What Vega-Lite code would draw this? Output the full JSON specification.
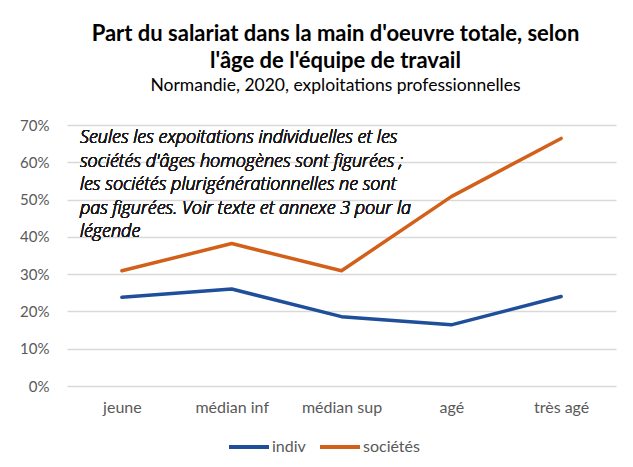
{
  "$schema": "https://vega.github.io/schema/vega-lite/v6.json",
  "width": 549,
  "height": 261,
  "autosize": "none",
  "padding": {"left": 67, "top": 125, "right": 17, "bottom": 81},
  "background": "white",
  "title": {
    "text": ["Part du salariat dans la main d'oeuvre totale, selon", "l'âge de l'équipe de travail"],
    "subtitle": "Normandie, 2020, exploitations professionnelles",
    "anchor": "middle",
    "dx": -6,
    "offset": 23,
    "font": "Lato",
    "fontSize": 22,
    "fontWeight": "bold",
    "color": "#000000",
    "lineHeight": 27,
    "subtitleFont": "Lato",
    "subtitleFontSize": 17.5,
    "subtitleColor": "#000000",
    "subtitlePadding": 4
  },
  "data": {
    "values": [
      {"age": "jeune", "type": "indiv", "part": 0.238},
      {"age": "médian inf", "type": "indiv", "part": 0.260},
      {"age": "médian sup", "type": "indiv", "part": 0.186},
      {"age": "agé", "type": "indiv", "part": 0.164},
      {"age": "très agé", "type": "indiv", "part": 0.240},
      {"age": "jeune", "type": "sociétés", "part": 0.309},
      {"age": "médian inf", "type": "sociétés", "part": 0.382},
      {"age": "médian sup", "type": "sociétés", "part": 0.309},
      {"age": "agé", "type": "sociétés", "part": 0.508},
      {"age": "très agé", "type": "sociétés", "part": 0.664}
    ]
  },
  "layer": [
    {
      "mark": {"type": "line", "strokeWidth": 3.5, "strokeCap": "round", "strokeJoin": "round"},
      "encoding": {
        "x": {
          "field": "age",
          "type": "nominal",
          "sort": ["jeune", "médian inf", "médian sup", "agé", "très agé"],
          "scale": {"type": "point", "padding": 0.5},
          "axis": {
            "title": null,
            "labelAngle": 0,
            "domain": false,
            "ticks": false,
            "tickSize": 0,
            "labelPadding": 13,
            "labelFont": "Lato",
            "labelFontSize": 16,
            "labelColor": "#595959",
            "grid": false
          }
        },
        "y": {
          "field": "part",
          "type": "quantitative",
          "scale": {"domain": [0, 0.7], "nice": false},
          "axis": {
            "title": null,
            "format": ".0%",
            "values": [0, 0.1, 0.2, 0.3, 0.4, 0.5, 0.6, 0.7],
            "labelOverlap": false,
            "domain": false,
            "ticks": false,
            "tickSize": 0,
            "labelPadding": 18,
            "labelFont": "Lato",
            "labelFontSize": 15,
            "labelColor": "#595959",
            "grid": true,
            "gridColor": "#D9D9D9",
            "gridWidth": 1.3
          }
        },
        "color": {
          "field": "type",
          "type": "nominal",
          "scale": {"domain": ["indiv", "sociétés"], "range": ["#1F4E9B", "#D2601A"]},
          "legend": {
            "title": null,
            "orient": "none",
            "direction": "horizontal",
            "legendX": 160,
            "legendY": 300,
            "symbolType": "stroke",
            "symbolSize": 1600,
            "symbolStrokeWidth": 4,
            "labelFont": "Lato",
            "labelFontSize": 16,
            "labelColor": "#595959",
            "labelOffset": 1,
            "columnPadding": 6
          }
        }
      }
    },
    {
      "mark": {
        "type": "text",
        "text": [
          "Seules les expoitations individuelles et les",
          "sociétés d'âges homogènes sont figurées ;",
          "les sociétés plurigénérationnelles ne sont",
          "pas figurées. Voir texte et annexe 3 pour la",
          "légende"
        ],
        "align": "left",
        "baseline": "top",
        "dx": -42,
        "dy": 4,
        "lineHeight": 23.5,
        "font": "Open Sans",
        "fontSize": 18,
        "fontStyle": "italic",
        "fontWeight": 300,
        "color": "#1a1a1a"
      },
      "encoding": {
        "x": {
          "datum": "jeune",
          "type": "nominal",
          "axis": {
            "title": null,
            "labelAngle": 0,
            "domain": false,
            "ticks": false,
            "tickSize": 0,
            "labelPadding": 13,
            "labelFont": "Lato",
            "labelFontSize": 16,
            "labelColor": "#595959",
            "grid": false
          }
        },
        "y": {
          "datum": 0.7,
          "type": "quantitative",
          "axis": {
            "title": null,
            "format": ".0%",
            "values": [0, 0.1, 0.2, 0.3, 0.4, 0.5, 0.6, 0.7],
            "labelOverlap": false,
            "domain": false,
            "ticks": false,
            "tickSize": 0,
            "labelPadding": 18,
            "labelFont": "Lato",
            "labelFontSize": 15,
            "labelColor": "#595959",
            "grid": true,
            "gridColor": "#D9D9D9",
            "gridWidth": 1.3
          }
        }
      }
    }
  ],
  "config": {
    "view": {"stroke": null}
  }
}
